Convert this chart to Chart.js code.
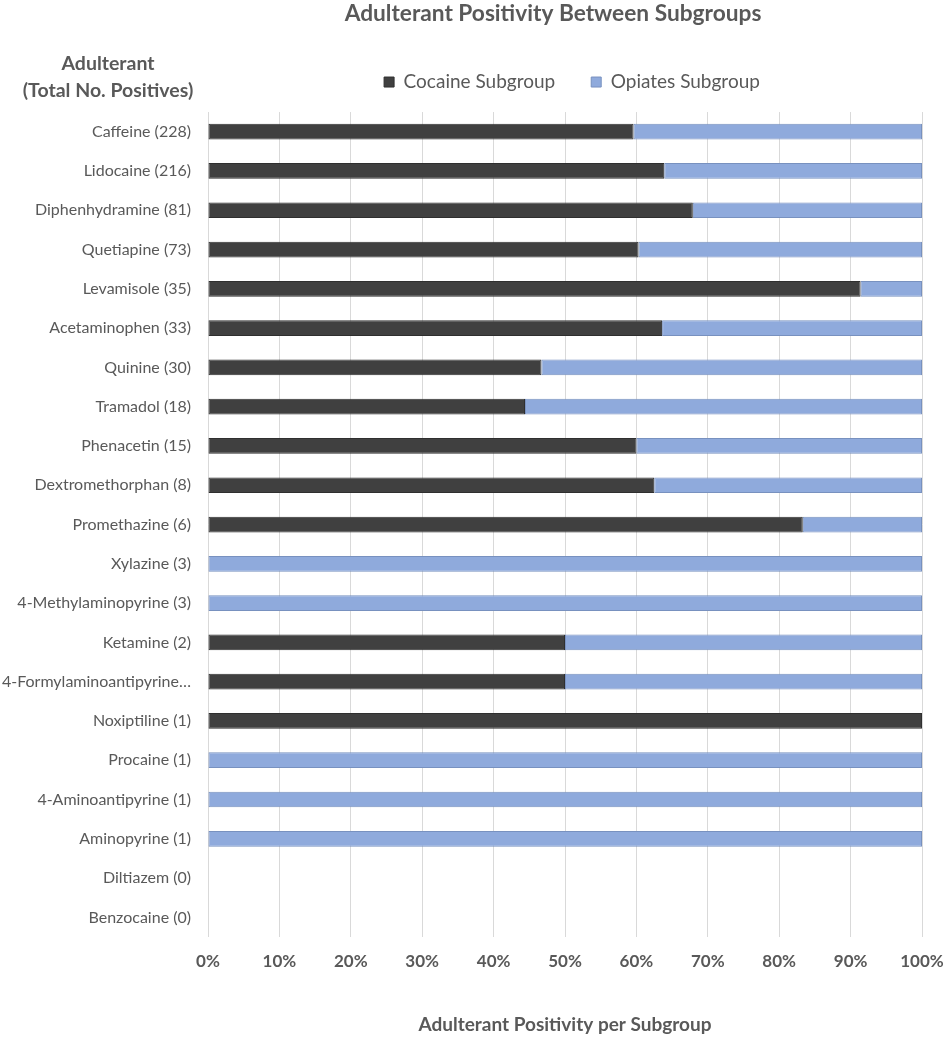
<!DOCTYPE html>
<html>
<head>
<meta charset="utf-8">
<script src="https://cdn.jsdelivr.net/npm/chart.js@4.4.1/dist/chart.umd.min.js"></script>
<style>
  html, body { margin: 0; padding: 0; background: #ffffff; }
  #wrap { width: 945px; height: 1037px; }
</style>
</head>
<body>
<div id="wrap"><canvas id="c" width="945" height="1037"></canvas></div>
<script>
const categories = [
  "Caffeine (228)", "Lidocaine (216)", "Diphenhydramine (81)", "Quetiapine (73)",
  "Levamisole (35)", "Acetaminophen (33)", "Quinine (30)", "Tramadol (18)",
  "Phenacetin (15)", "Dextromethorphan (8)", "Promethazine (6)", "Xylazine (3)",
  "4-Methylaminopyrine (3)", "Ketamine (2)", "4-Formylaminoantipyrine…",
  "Noxiptiline (1)", "Procaine (1)", "4-Aminoantipyrine (1)", "Aminopyrine (1)",
  "Diltiazem (0)", "Benzocaine (0)"
];
// Percent of positives in each subgroup (100% stacked)
const cocainePct = [59.6, 63.9, 67.9, 60.3, 91.4, 63.6, 46.7, 44.4, 60.0, 62.5, 83.3, 0, 0, 50, 50, 100, 0, 0, 0, null, null];
const opiatesPct = [40.4, 36.1, 32.1, 39.7, 8.6, 36.4, 53.3, 55.6, 40.0, 37.5, 16.7, 100, 100, 50, 50, 0, 100, 100, 100, null, null];
const seriesNames = ["Cocaine Subgroup", "Opiates Subgroup"];
const xTicks = [0, 10, 20, 30, 40, 50, 60, 70, 80, 90, 100];

const FONT = "Lato, 'Open Sans', sans-serif";
const TXT = "#595959";

const yHeader = {
  id: 'yHeader',
  afterLayout(chart) {
    if (chart.titleBlock) { chart.titleBlock.left -= 24; }
    if (chart.legend) { chart.legend.left += 14; }
  },
  afterDraw(chart) {
    const ctx = chart.ctx;
    ctx.save();
    ctx.fillStyle = TXT;
    ctx.font = "bold 19.5px " + FONT;
    ctx.textAlign = "center";
    ctx.textBaseline = "middle";
    ctx.fillText("Adulterant", 108, 64);
    ctx.fillText("(Total No. Positives)", 108, 91);
    ctx.restore();
  }
};

new Chart(document.getElementById('c'), {
  type: 'bar',
  data: {
    labels: categories,
    datasets: [
      { label: seriesNames[0], data: cocainePct, backgroundColor: '#404040', borderColor: '#2f2f2f', borderWidth: 1, borderSkipped: false },
      { label: seriesNames[1], data: opiatesPct, backgroundColor: '#8faadc', borderColor: '#7891bf', borderWidth: 1, borderSkipped: false }
    ]
  },
  options: {
    indexAxis: 'y',
    responsive: false,
    animation: false,
    devicePixelRatio: 1,
    categoryPercentage: 1,
    barPercentage: 0.4,
    layout: { padding: { left: 0, right: 23, top: 0, bottom: 0 } },
    scales: {
      x: {
        stacked: true,
        min: 0, max: 100,
        afterBuildTicks(scale) { scale.ticks = xTicks.map(v => ({ value: v })); },
        afterFit(scale) { scale.height = 100; scale.paddingLeft = 0; scale.paddingRight = 0; },
        grid: { color: '#d9d9d9', lineWidth: 1, drawTicks: false },
        border: { display: false },
        ticks: {
          padding: 14.8,
          color: TXT,
          maxRotation: 0,
          font: { family: FONT, size: 17, weight: 'bold' },
          callback: v => v + '%'
        },
        title: {
          display: true,
          text: 'Adulterant Positivity per Subgroup',
          color: TXT,
          font: { family: FONT, size: 19, weight: 'bold' },
          padding: { top: 0, bottom: 0.6 }
        }
      },
      y: {
        stacked: true,
        afterFit(scale) { scale.width = 208; },
        grid: { display: false, drawTicks: false },
        border: { display: false },
        ticks: {
          padding: 17,
          autoSkip: false,
          color: TXT,
          font: { family: FONT, size: 16 }
        }
      }
    },
    plugins: {
      title: {
        display: true,
        text: 'Adulterant Positivity Between Subgroups',
        color: TXT,
        fullSize: false,
        font: { family: FONT, size: 22.7, weight: 'bold' },
        padding: { top: 0, bottom: 9.3 }
      },
      subtitle: {
        display: true,
        text: '',
        weight: 500,
        fullSize: false,
        font: { family: FONT, size: 10, lineHeight: 1 },
        padding: { top: 0.5, bottom: 0 }
      },
      legend: {
        display: true,
        position: 'top',
        fullSize: false,
        labels: {
          boxWidth: 10,
          boxHeight: 10,
          padding: 36,
          color: TXT,
          font: { family: FONT, size: 19 }
        }
      },
      tooltip: { enabled: false }
    }
  },
  plugins: [yHeader]
});
</script>
</body>
</html>
